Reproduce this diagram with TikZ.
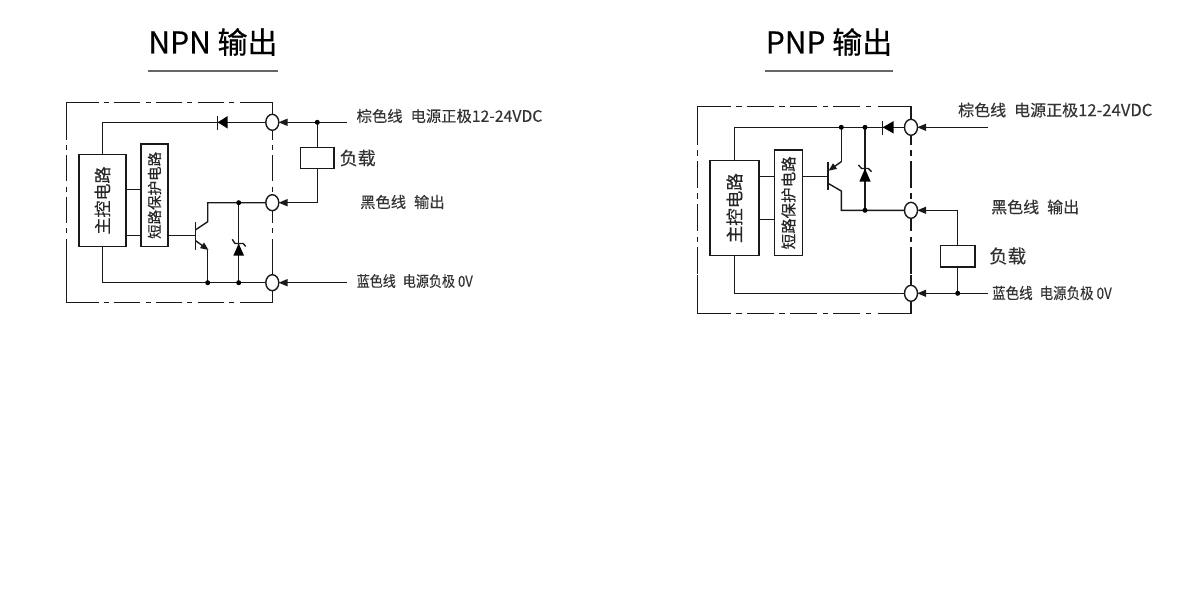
\documentclass[tikz,border=0pt]{standalone}
\usepackage{fontspec}
\setmainfont{Noto Sans CJK SC}
\newfontface\titlefont[FakeBold=0.5]{Noto Sans CJK SC}
\newfontface\labelfont[FakeBold=0.2]{Noto Sans CJK SC}
\newfontface\narrowfont[FakeBold=0.2,FakeStretch=0.87]{Noto Sans CJK SC}
\usepackage{tikz}
\usetikzlibrary{arrows.meta,shapes.geometric}

\tikzset{
  wire/.style={line width=1.4pt, black!90},
  frameA/.style={wire, dash pattern=on 26pt off 5.3pt on 5pt off 5.3pt, dash phase=31.3pt},
  frameB/.style={wire, dash pattern=on 27pt off 5.5pt on 5.5pt off 5.3pt, dash phase=32.5pt},
  port/.style={draw=black!90, line width=1.4pt, fill=white, ellipse, minimum width=13pt, minimum height=16pt, inner sep=0pt},
  blockbox/.style={draw=black!90, line width=1.4pt, fill=white, inner sep=0pt},
  dot/.style={circle, fill=black, inner sep=0pt, minimum size=5pt},
  lbl/.style={anchor=west, inner sep=0pt, font=\labelfont\fontsize{15.3}{16}\selectfont, text=black!80},
  lblb/.style={anchor=west, inner sep=0pt, font=\labelfont\fontsize{16}{17}\selectfont, text=black!80},
  lblblue/.style={anchor=west, inner sep=0pt, font=\narrowfont\fontsize{15}{16}\selectfont, text=black!80},
  ttl/.style={anchor=center, inner sep=0pt, font=\titlefont\fontsize{30}{30}\selectfont, text=black},
  vtxt/.style={rotate=90, inner sep=0pt, text=black!85},
  into/.style={-{Triangle[length=9pt,width=7pt]}, wire, shorten >=-1pt},
  intob/.style={-{Triangle[length=8pt,width=6.5pt]}, wire},
}

\begin{document}
\begin{tikzpicture}[x=1pt,y=-1pt]
\useasboundingbox (0,0) rectangle (1200,600);

%%% NPN
\node[ttl] (titleA) at (213,42) {NPN 输出};
\coordinate (ruleAl) at (148,71);
\coordinate (ruleAr) at (278,71);
\draw[line width=1.3pt, black!60] (ruleAl) -- (ruleAr);

% frame
\draw[wire] (66.7,140) -- (66.7,102.7) -- (99.3,102.7);
\draw[frameA] (104,102.7) -- (235,102.7);
\draw[wire] (240,102.7) -- (272.3,102.7) -- (272.3,140);
\draw[wire] (66.7,265) -- (66.7,302.7) -- (99.3,302.7);
\draw[frameA] (104,302.7) -- (235,302.7);
\draw[wire] (240,302.7) -- (272.3,302.7) -- (272.3,265);
\draw[frameA] (66.7,145) -- (66.7,265);
\draw[frameA] (272.3,145) -- (272.3,265);

\node[port] (pA1) at (272.3,122.3) {};
\node[port] (pA2) at (272.3,202.7) {};
\node[port] (pA3) at (272.3,282.7) {};
\node[blockbox, minimum width=47pt, minimum height=92.4pt] (mainA) at (102.5,200.5) {};
\node[vtxt, font=\labelfont\fontsize{17}{17}\selectfont] at (mainA) {主控电路};
\node[blockbox, minimum width=27pt, minimum height=102.7pt] (shortA) at (154.5,195.35) {};
\node[vtxt, font=\labelfont\fontsize{14.5}{15}\selectfont] at (shortA) {短路保护电路};
\node[blockbox, minimum width=33.6pt, minimum height=21pt] (loadA) at (317.3,158.2) {};

\coordinate (j1) at (207.7,282.7);
\coordinate (j2) at (238.7,282.7);
\coordinate (j3) at (238.7,202.7);
\coordinate (j4) at (317.3,122.3);
\coordinate (endA1) at (346.7,122.3);
\coordinate (endA3) at (346.7,282.7);

\draw[wire] (102.3,154.3) -- (102.3,122.3) -- (pA1.west);
\draw[wire] (102.3,246.7) -- (102.3,282.7) -- (pA3.west);
\draw[wire] (126,189.3) -- (141,189.3);
\draw[wire] (126,235.3) -- (141,235.3);
\draw[wire] (168,235.3) -- (195.3,235.3);
\draw[wire] (195.3,221.7) -- (195.3,250);
\draw[wire] (195.3,230) -- (207.7,221.7) -- (207.7,202.7) -- (pA2.west);
\draw[wire] (207.7,250) -- (j1);
\draw[intob] (195.3,240.5) -- (208.5,250);
\draw[wire] (j3) -- (j2);
\fill[black] (238.7,243.5) -- (233.4,255.5) -- (244,255.5) -- cycle;
\draw[wire] (232.3,239.3) -- (235,243.5) -- (243.3,243.5) -- (245.7,246.5);
\fill[black] (217.7,122.3) -- (227.7,116) -- (227.7,128.6) -- cycle;
\draw[wire] (217.7,115.5) -- (217.7,130);
\draw[wire] (j4) -- (loadA.north);
\draw[wire] (loadA.south) -- (317.3,202.7);
\draw[into] (endA1) -- (pA1.east);
\draw[into] (317.3,202.7) -- (pA2.east);
\draw[into] (endA3) -- (pA3.east);
\foreach \p in {j1,j2,j3,j4}{
\node[dot] at (\p) {};
}
\node[lbl] (browna) at (356.5,116) {棕色线\hspace{8pt}电源正极{\fontsize{15.8}{16}\selectfont 12-24VDC}};
\node[lbl, font=\labelfont\fontsize{18}{18}\selectfont] (loada) at (339.5,158) {负载};
\node[lbl] (blacka) at (360,202) {黑色线\hspace{8pt}输出};
\node[lblblue] (bluea) at (356.5,281) {蓝色线\hspace{7pt}电源负极\hspace{3pt}0V};

%%% PNP
\node[ttl] (titleB) at (829,42) {PNP 输出};
\coordinate (ruleBl) at (765,71);
\coordinate (ruleBr) at (893,71);
\draw[line width=1.3pt, black!60] (ruleBl) -- (ruleBr);

% frame
\draw[wire] (697.3,145) -- (697.3,106.3) -- (730.7,106.3);
\draw[frameB] (736,106.3) -- (872.3,106.3);
\draw[wire] (877.7,106.3) -- (911,106.3) -- (911,145);
\draw[wire] (697.3,275) -- (697.3,313.7) -- (730.7,313.7);
\draw[frameB] (736,313.7) -- (872.3,313.7);
\draw[wire] (877.7,313.7) -- (911,313.7) -- (911,275);
\draw[frameB] (697.3,150) -- (697.3,275);
\draw[frameB] (911,150) -- (911,275);

\node[port] (pB1) at (911,127.3) {};
\node[port] (pB2) at (911,210.3) {};
\node[port] (pB3) at (911,293.3) {};
\node[blockbox, minimum width=49pt, minimum height=95pt] (mainB) at (734.5,208.2) {};
\node[vtxt, font=\labelfont\fontsize{17.5}{18}\selectfont] at (mainB) {主控电路};
\node[blockbox, minimum width=27.6pt, minimum height=105.7pt] (shortB) at (788.5,202.85) {};
\node[vtxt, font=\labelfont\fontsize{15.5}{16}\selectfont] at (shortB) {短路保护电路};
\node[blockbox, minimum width=34.7pt, minimum height=21.3pt] (loadB) at (957.7,256.3) {};

\coordinate (k1) at (841.3,127.3);
\coordinate (k2) at (865,127.3);
\coordinate (k3) at (865,210.3);
\coordinate (k4) at (957.7,293.3);
\coordinate (endB1) at (988,127.3);
\coordinate (endB3) at (988,293.3);

\draw[wire] (734.7,160.7) -- (734.7,127.3) -- (pB1.west);
\draw[wire] (734.7,255.7) -- (734.7,293.3) -- (pB3.west);
\draw[wire] (759,176.7) -- (774.7,176.7);
\draw[wire] (759,219.3) -- (774.7,219.3);
\draw[wire] (802.3,176.7) -- (828,176.7);
\draw[wire] (828,161.7) -- (828,190);
\draw[wire] (828,183.3) -- (841.3,191) -- (841.3,210.3) -- (pB2.west);
\draw[intob] (841.3,161.7) -- (828.5,170.7);
\draw[wire] (841.3,161.7) -- (k1);
\draw[wire] (k2) -- (k3);
\fill[black] (865,168.5) -- (859.3,181.7) -- (870.7,181.7) -- cycle;
\draw[wire] (858.3,165) -- (861.7,168.5) -- (868.3,168.5) -- (871.7,171.7);
\fill[black] (882.7,127.3) -- (893.7,121) -- (893.7,133.6) -- cycle;
\draw[wire] (882.7,120.7) -- (882.7,135);
\draw[into] (endB1) -- (pB1.east);
\draw[into] (957.7,210.3) -- (pB2.east);
\draw[into] (endB3) -- (pB3.east);
\draw[wire] (957.7,210.3) -- (loadB.north);
\draw[wire] (loadB.south) -- (k4);
\foreach \p in {k1,k2,k3,k4}{
\node[dot] at (\p) {};
}
\node[lblb] (brownb) at (958,110) {棕色线\hspace{8pt}电源正极{\fontsize{16.6}{17}\selectfont 12-24VDC}};
\node[lblb] (blackb) at (991,207) {黑色线\hspace{8pt}输出};
\node[lblb, font=\labelfont\fontsize{18.5}{19}\selectfont] (loadb) at (989,256) {负载};
\node[lblblue, font=\narrowfont\fontsize{15.5}{16}\selectfont] (blueb) at (992,293) {蓝色线\hspace{7pt}电源负极\hspace{3pt}0V};
\end{tikzpicture}
\end{document}
